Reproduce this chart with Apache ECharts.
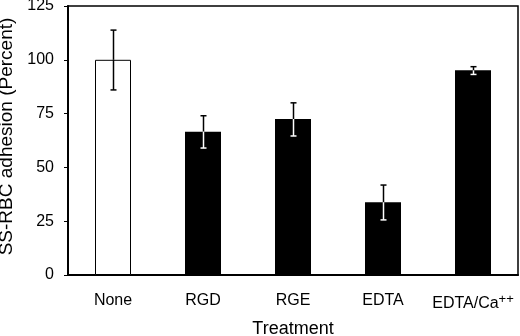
<!DOCTYPE html>
<html>
<head>
<meta charset="utf-8">
<script src="https://cdn.jsdelivr.net/npm/echarts@6/dist/echarts.min.js"></script>
<style>
  html, body { margin: 0; padding: 0; background: #fff; }
  #chart { width: 520px; height: 336px; }
</style>
</head>
<body>
<div id="chart"></div>
<script>
// values
var categories = ["None", "RGD", "RGE", "EDTA", "EDTA/Ca++"];
var adhesion = [100, 66.6, 72.5, 33.8, 95.1];
var errHigh = [113.8, 74, 80, 41.8, 96.8];
var errLow = [86, 59, 64.6, 25.6, 93.2];
var yTicks = [0, 25, 50, 75, 100, 125];

var barColors = ["#ffffff", "#000000", "#000000", "#000000", "#000000"];

var chart = echarts.init(document.getElementById("chart"));

var barData = adhesion.map(function (v, i) {
  return {
    value: v,
    itemStyle: { color: barColors[i], borderColor: "#000", borderWidth: i === 0 ? 1 : 0 }
  };
});

var errData = categories.map(function (c, i) {
  return [i, adhesion[i], errHigh[i], errLow[i]];
});

chart.setOption({
  animation: false,
  grid: {
    left: 68, top: 6, right: 2, bottom: 61,
    outerBoundsMode: "none",
    containLabel: false,
    show: true, borderColor: "#000", borderWidth: 1.5, backgroundColor: "#fff"
  },
  xAxis: {
    type: "category",
    data: categories,
    name: "Treatment",
    nameLocation: "middle",
    nameGap: 45,
    nameTextStyle: { fontFamily: "Liberation Sans", fontSize: 18, color: "#000" },
    axisLine: { lineStyle: { color: "#000", width: 2 } },
    axisTick: { show: false },
    axisLabel: {
      interval: 0,
      margin: 18,
      fontFamily: "Liberation Sans",
      fontSize: 16,
      color: "#000",
      formatter: function (v) {
        if (v === "EDTA/Ca++") return "EDTA/Ca{sup|++}";
        return v;
      },
      rich: {
        sup: { fontFamily: "Liberation Sans", fontSize: 13, color: "#000", verticalAlign: "bottom", padding: [0, 0, 9, 0] }
      }
    }
  },
  yAxis: {
    type: "value",
    min: yTicks[0],
    max: yTicks[yTicks.length - 1],
    interval: 25,
    name: "SS-RBC adhesion (Percent)",
    nameLocation: "middle",
    nameGap: 50,
    nameTextStyle: { fontFamily: "Liberation Sans", fontSize: 19, color: "#000", padding: [0, 0, 0, 8] },
    axisLine: { show: true, lineStyle: { color: "#000", width: 2 } },
    axisTick: { show: true, inside: false, length: 4, lineStyle: { color: "#000", width: 1 } },
    axisLabel: { fontFamily: "Liberation Sans", fontSize: 16, color: "#000", margin: 14 },
    splitLine: { show: false }
  },
  series: [
    {
      type: "bar",
      data: barData,
      barWidth: "40%"
    },
    {
      type: "custom",
      data: errData,
      z: 10,
      renderItem: function (params, api) {
        var i = api.value(0);
        var mid = api.coord([i, api.value(1)]);
        var hi = api.coord([i, api.value(2)]);
        var lo = api.coord([i, api.value(3)]);
        var x = Math.round(mid[0]) + 0.5;
        var inner = barColors[i] === "#000000" ? "#fff" : "#000";
        var cap = 3;
        return {
          type: "group",
          children: [
            { type: "line", shape: { x1: x, y1: hi[1], x2: x, y2: mid[1] }, style: { stroke: "#000", lineWidth: 1.5 } },
            { type: "line", shape: { x1: x - cap, y1: hi[1], x2: x + cap, y2: hi[1] }, style: { stroke: "#000", lineWidth: 1.5 } },
            { type: "line", shape: { x1: x, y1: mid[1], x2: x, y2: lo[1] }, style: { stroke: inner, lineWidth: 1.5 } },
            { type: "line", shape: { x1: x - cap, y1: lo[1], x2: x + cap, y2: lo[1] }, style: { stroke: inner, lineWidth: 1.5 } }
          ]
        };
      }
    }
  ]
});
</script>
</body>
</html>
